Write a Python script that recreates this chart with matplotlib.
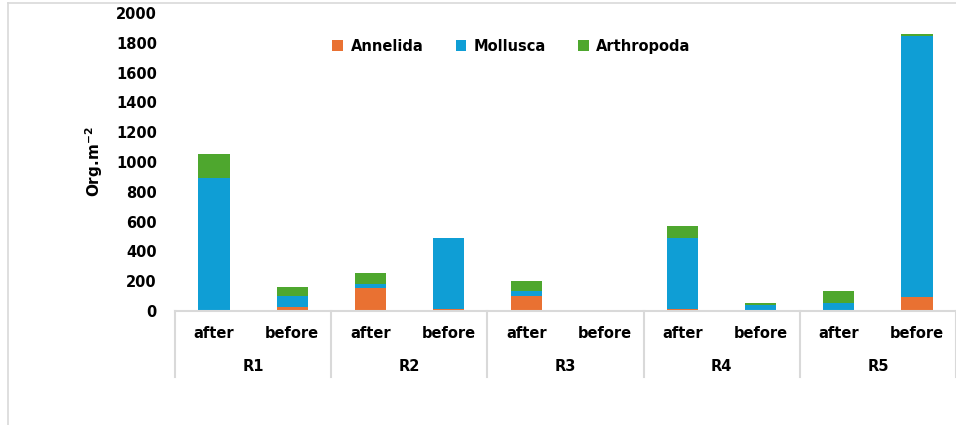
import numpy as np
import matplotlib.pyplot as plt
from matplotlib.lines import Line2D

# data
sites = ['R1', 'R2', 'R3', 'R4', 'R5']
periods = ['after', 'before']
annelida = [0, 27, 155, 15, 103, 0, 16, 0, 0, 94]
mollusca = [895, 73, 28, 477, 33, 0, 474, 42, 56, 1752]
arthropoda = [160, 60, 70, 0, 65, 0, 80, 12, 78, 13]
yticks = [0, 200, 400, 600, 800, 1000, 1200, 1400, 1600, 1800, 2000]

c_ann = '#E97132'
c_mol = '#0F9ED5'
c_art = '#4EA72E'
grey = '#D9D9D9'

plt.rcParams['font.family'] = ['DejaVu Sans']

fig = plt.figure(figsize=(9.56, 4.25), dpi=100)
ax = fig.add_axes([175 / 956, 1 - 311 / 425, 781 / 956, 298 / 425])

x = np.arange(len(annelida)) + 0.5
ann = np.array(annelida)
mol = np.array(mollusca)
art = np.array(arthropoda)
w = 0.4
ax.bar(x, ann, w, color=c_ann, label='Annelida')
ax.bar(x, mol, w, bottom=ann, color=c_mol, label='Mollusca')
ax.bar(x, art, w, bottom=ann + mol, color=c_art, label='Arthropoda')

ax.set_xlim(0, len(annelida))
ax.set_ylim(0, 2000)
ax.set_yticks(yticks)
ax.set_yticklabels([str(t) for t in yticks], fontsize=10.5, fontweight='bold')
ax.tick_params(axis='y', length=0, pad=13)
ax.set_xticks([])
for s in ['left', 'right', 'top']:
    ax.spines[s].set_visible(False)
ax.spines['bottom'].set_color(grey)
ax.spines['bottom'].set_linewidth(1.5)

ax.set_ylabel(r'Org.m$^{\mathbf{-2}}$', fontsize=11, fontweight='bold')
ax.yaxis.set_label_coords(-70 / 781, 0.5)

# multi-level category axis
trans = ax.get_xaxis_transform()
for k in range(len(sites) + 1):
    ax.plot([2 * k, 2 * k], [0, -0.222], transform=trans, color=grey,
            lw=1.5, clip_on=False)
for i, xi in enumerate(x):
    ax.text(xi, -0.074, periods[i % 2], transform=trans, ha='center',
            va='center', fontsize=10.5, fontweight='bold')
for k, s in enumerate(sites):
    ax.text(2 * k + 1, -0.185, s, transform=trans, ha='center', va='center',
            fontsize=10.5, fontweight='bold')

leg = ax.legend(loc='center', bbox_to_anchor=(0.431, 0.889), ncol=3,
                frameon=False, prop={'weight': 'bold', 'size': 10.5},
                handlelength=0.75, handleheight=0.75, columnspacing=2.2,
                handletextpad=0.5)

# outer frame
fig.add_artist(Line2D([8 / 956, 8 / 956], [0, 1 - 3 / 425], color=grey, lw=1.2))
fig.add_artist(Line2D([8 / 956, 1], [1 - 3 / 425, 1 - 3 / 425], color=grey, lw=1.2))

fig.savefig('out.png', dpi=100)
